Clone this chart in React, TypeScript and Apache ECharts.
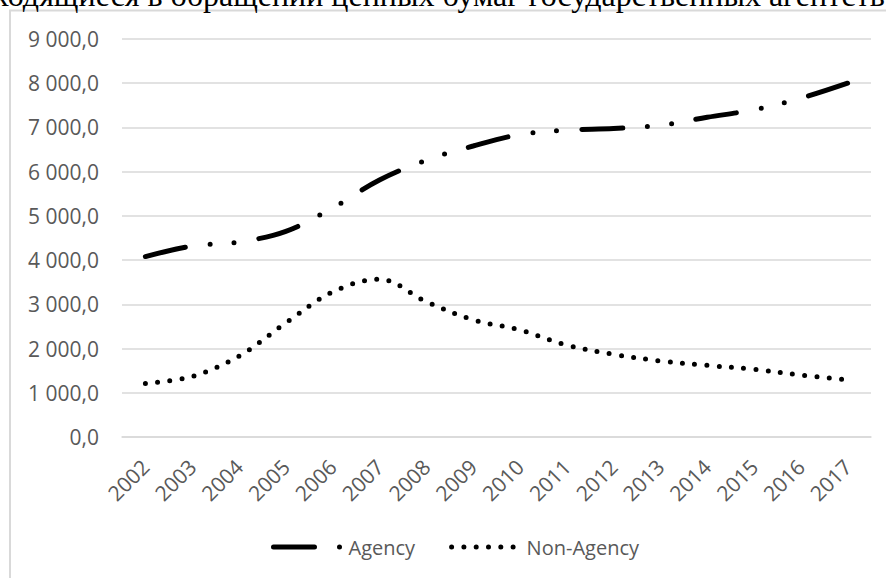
import React, { useEffect, useRef } from "react";
import * as echarts from "echarts";

const years = ["2002","2003","2004","2005","2006","2007","2008","2009","2010","2011","2012","2013","2014","2015","2016","2017"];
const agency = [4080, 4320, 4410, 4650, 5180, 5810, 6260, 6580, 6840, 6940, 6975, 7050, 7230, 7400, 7660, 8000];
const nonAgency = [1210, 1370, 1830, 2580, 3280, 3570, 3060, 2650, 2420, 2080, 1870, 1720, 1620, 1530, 1400, 1290];
const titleText = "ходящиеся в обращении ценных бумаг государственных агентств";

const fmt = (v: number) => {
  const s = v.toFixed(1);
  const [i, d] = s.split(".");
  return i.replace(/\B(?=(\d{3})+(?!\d))/g, " ") + "," + d;
};

export default function App() {
  const ref = useRef<HTMLDivElement>(null);
  useEffect(() => {
    const chart = echarts.init(ref.current!, undefined, { renderer: "svg" });
    const font = "'Open Sans', sans-serif";
    chart.setOption({
      animation: false,
      backgroundColor: "#ffffff",
      graphic: [
        {
          type: "rect",
          z: -1,
          shape: { x: 10, y: 10.5, width: 900, height: 600 },
          style: { fill: "none", stroke: "#d9d9d9", lineWidth: 2 },
        },
        {
          type: "text",
          x: -7,
          y: -21,
          style: {
            text: titleText,
            font: "32px 'Liberation Serif', serif",
            fill: "#000000",
          },
        },
      ],
      grid: { left: 122, right: 15, top: 39, bottom: 141 },
      legend: {
        left: 266,
        top: 532,
        itemWidth: 70,
        itemHeight: 14,
        itemGap: 34,
        textStyle: { color: "#595959", fontSize: 20, fontFamily: font },
        lineStyle: { width: 5 },
        itemStyle: { opacity: 0 },
        data: ["Agency", "Non-Agency"],
      },
      xAxis: {
        type: "category",
        data: years,
        boundaryGap: true,
        axisLine: { show: true, lineStyle: { color: "#d9d9d9", width: 1.5 } },
        axisTick: { show: false },
        axisLabel: { rotate: 45, margin: 26, color: "#595959", fontSize: 21, fontFamily: font },
      },
      yAxis: {
        type: "value",
        min: 0,
        max: 9000,
        interval: 1000,
        axisLine: { show: false },
        axisTick: { show: false },
        splitLine: { lineStyle: { color: "#d9d9d9", width: 1.5 } },
        axisLabel: { margin: 23, color: "#595959", fontSize: 21, fontFamily: font, formatter: fmt },
      },
      series: [
        {
          name: "Agency",
          type: "line",
          data: agency,
          smooth: 0.35,
          symbol: "none",
          lineStyle: { color: "#000000", width: 5, type: [41, 25, 0, 24, 0, 25], cap: "round" },
          itemStyle: { color: "#000000" },
        },
        {
          name: "Non-Agency",
          type: "line",
          data: nonAgency,
          smooth: 0.35,
          symbol: "none",
          lineStyle: { color: "#000000", width: 5, type: [0, 12.3], cap: "round" },
          itemStyle: { color: "#000000" },
        },
      ],
    });
    return () => chart.dispose();
  }, []);
  return (
    <div style={{ position: "fixed", left: 0, top: 0, width: 886, height: 578, overflow: "hidden", background: "#fff" }}>
      <div ref={ref} style={{ width: 886, height: 578 }} />
    </div>
  );
}
